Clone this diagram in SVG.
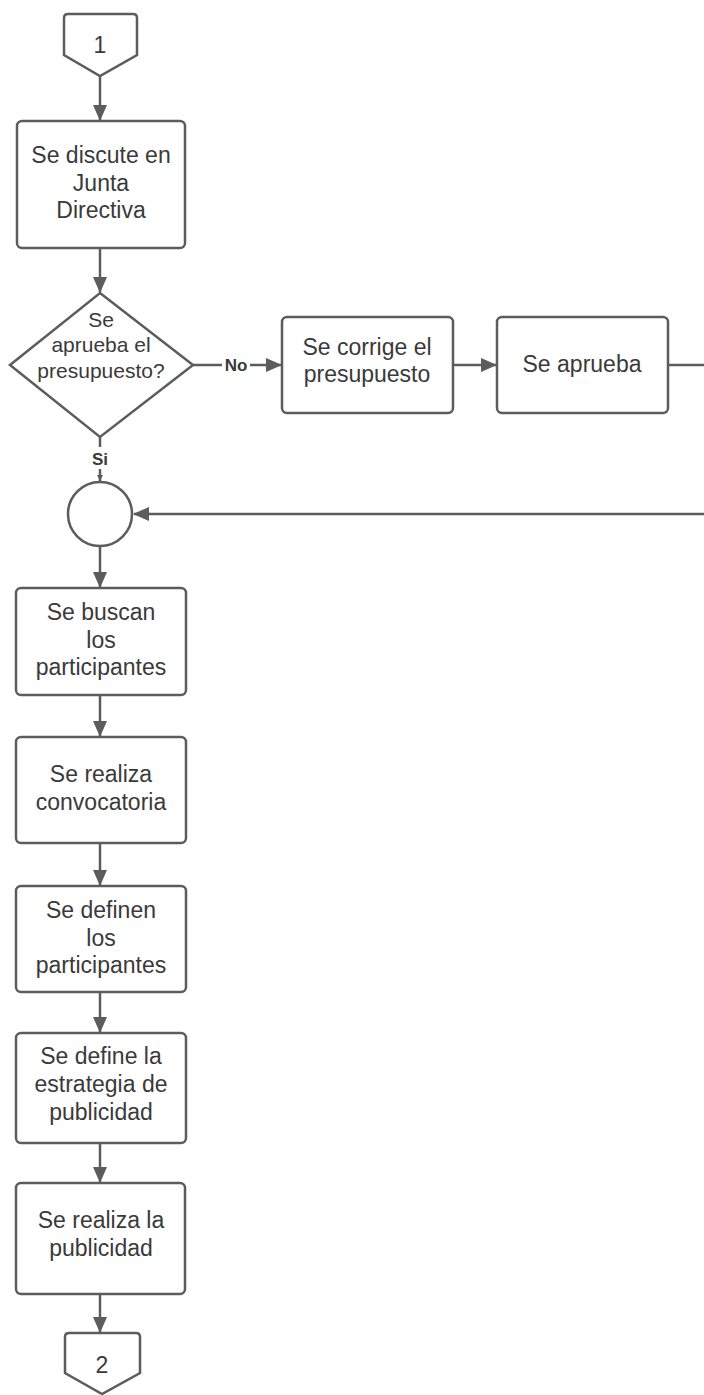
<svg xmlns="http://www.w3.org/2000/svg" width="704" height="1395" viewBox="0 0 704 1395">
<style>
.s{fill:#fff;stroke:#5c5c5c;stroke-width:2.5}
.c{fill:none;stroke:#5c5c5c;stroke-width:2.5}
.t{font-family:"Liberation Sans",Arial,sans-serif;font-size:23px;fill:#3a3a3a;text-anchor:middle}
.d{font-size:21px}
.l{font-family:"Liberation Sans",Arial,sans-serif;font-size:17px;font-weight:bold;fill:#3a3a3a;text-anchor:middle}
</style>
<defs>
<marker id="a" markerUnits="userSpaceOnUse" markerWidth="16" markerHeight="14" viewBox="0 0 16 14" refX="15" refY="7" orient="auto">
<path d="M0,0 L16,7 L0,14 Z" fill="#5c5c5c"/>
</marker>
<marker id="sm" markerUnits="userSpaceOnUse" markerWidth="6" markerHeight="6" viewBox="0 0 6 6" refX="6" refY="3" orient="auto">
<path d="M0,0 L6,3 L0,6 Z" fill="#5c5c5c"/>
</marker>
</defs>
<rect width="704" height="1395" fill="#fff"/>
<g id="connectors">
<line class="c" x1="100" y1="76" x2="100" y2="120" marker-end="url(#a)"/>
<line class="c" x1="100" y1="248" x2="100" y2="292" marker-end="url(#a)"/>
<line class="c" x1="193" y1="365" x2="281" y2="365" marker-end="url(#a)"/>
<rect x="222" y="355" width="28" height="20" fill="#fff"/>
<text class="l" x="236" y="371">No</text>
<line class="c" x1="453" y1="365" x2="496" y2="365" marker-end="url(#a)"/>
<line class="c" x1="668" y1="365" x2="706" y2="365"/>
<line class="c" x1="706" y1="514" x2="134" y2="514" marker-end="url(#a)"/>
<line class="c" x1="100" y1="437" x2="100" y2="481" marker-end="url(#sm)"/>
<rect x="88" y="447" width="24" height="22" fill="#fff"/>
<text class="l" x="100" y="465">Si</text>
<line class="c" x1="100" y1="547" x2="100" y2="587" marker-end="url(#a)"/>
<line class="c" x1="100" y1="695" x2="100" y2="736" marker-end="url(#a)"/>
<line class="c" x1="100" y1="843" x2="100" y2="885" marker-end="url(#a)"/>
<line class="c" x1="100" y1="992" x2="100" y2="1032" marker-end="url(#a)"/>
<line class="c" x1="100" y1="1143" x2="100" y2="1182" marker-end="url(#a)"/>
<line class="c" x1="100" y1="1294" x2="100" y2="1332" marker-end="url(#a)"/>
</g>
<g id="off1">
<path class="s" d="M68,14 L133,14 Q137,14 137,18 L137,55 L100,76 L64,55 L64,18 Q64,14 68,14 Z"/>
<text class="t" x="100" y="53">1</text>
</g>
<g id="box1">
<rect class="s" x="17" y="121" width="168" height="127" rx="5"/>
<text class="t" x="101" y="163">Se discute en</text>
<text class="t" x="101" y="191">Junta</text>
<text class="t" x="101" y="218">Directiva</text>
</g>
<g id="decision">
<path class="s" d="M100,293 L193,365 L100,437 L10,365 Z"/>
<text class="t d" x="101" y="327">Se</text>
<text class="t d" x="101" y="352">aprueba el</text>
<text class="t d" x="101" y="378">presupuesto?</text>
</g>
<g id="corrige">
<rect class="s" x="282" y="317" width="171" height="96" rx="5"/>
<text class="t" x="367" y="355">Se corrige el</text>
<text class="t" x="367" y="382">presupuesto</text>
</g>
<g id="aprueba">
<rect class="s" x="497" y="317" width="171" height="96" rx="5"/>
<text class="t" x="582" y="372">Se aprueba</text>
</g>
<g id="merge">
<circle class="s" cx="100" cy="514" r="32"/>
</g>
<g id="buscan">
<rect class="s" x="16" y="588" width="170" height="107" rx="5"/>
<text class="t" x="101" y="620">Se buscan</text>
<text class="t" x="101" y="648">los</text>
<text class="t" x="101" y="675">participantes</text>
</g>
<g id="convocatoria">
<rect class="s" x="16" y="737" width="170" height="106" rx="5"/>
<text class="t" x="101" y="782">Se realiza</text>
<text class="t" x="101" y="810">convocatoria</text>
</g>
<g id="definen">
<rect class="s" x="16" y="886" width="170" height="106" rx="5"/>
<text class="t" x="101" y="918">Se definen</text>
<text class="t" x="101" y="946">los</text>
<text class="t" x="101" y="973">participantes</text>
</g>
<g id="estrategia">
<rect class="s" x="16" y="1033" width="170" height="110" rx="5"/>
<text class="t" x="101" y="1064">Se define la</text>
<text class="t" x="101" y="1092">estrategia de</text>
<text class="t" x="101" y="1120">publicidad</text>
</g>
<g id="publicidad">
<rect class="s" x="16" y="1183" width="169" height="111" rx="5"/>
<text class="t" x="101" y="1228">Se realiza la</text>
<text class="t" x="101" y="1256">publicidad</text>
</g>
<g id="off2">
<path class="s" d="M69,1333 L136,1333 Q140,1333 140,1337 L140,1373 L102,1394 L65,1373 L65,1337 Q65,1333 69,1333 Z"/>
<text class="t" x="102" y="1373">2</text>
</g>
</svg>
